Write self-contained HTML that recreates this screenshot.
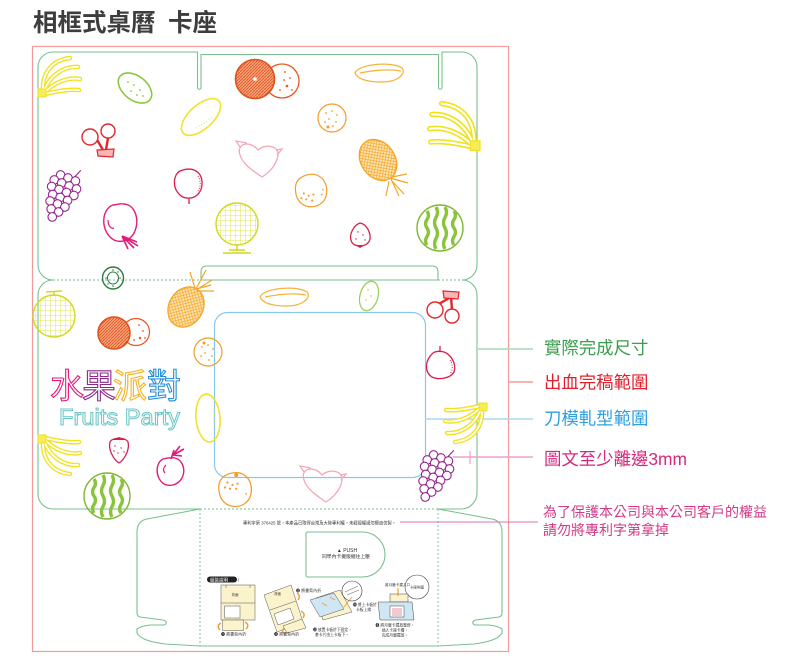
<!DOCTYPE html>
<html><head><meta charset="utf-8">
<style>
html,body{margin:0;padding:0;background:#fff;}
svg{display:block;}
text{font-family:"Liberation Sans","Noto Sans CJK TC",sans-serif;}
</style></head><body>
<svg width="800" height="660" viewBox="0 0 800 660" xmlns="http://www.w3.org/2000/svg">
<defs>
<pattern id="pO" width="4" height="4" patternUnits="userSpaceOnUse"><rect width="4" height="4" fill="#fde6bd"/><path d="M0,0 L4,4 M4,0 L0,4" stroke="#f5a623" stroke-width="0.7"/></pattern>
<pattern id="pY" width="5" height="5" patternUnits="userSpaceOnUse"><path d="M0,0 L5,0 M0,0 L0,5" stroke="#d7df23" stroke-width="0.8" fill="none"/></pattern>
<pattern id="pR" width="3" height="3" patternUnits="userSpaceOnUse"><rect width="3" height="3" fill="#f6a27a"/><path d="M0,3 L3,0" stroke="#e0501a" stroke-width="0.8"/></pattern>
</defs>

<!-- title -->
<text x="33" y="31" font-size="24.5" font-weight="bold" fill="#3d3d3d">相框式桌曆</text>
<text x="168" y="31" font-size="24.5" font-weight="bold" fill="#3d3d3d">卡座</text>

<!-- bleed -->
<rect x="32.5" y="46.5" width="476" height="605" fill="none" stroke="#f09a9a" stroke-width="1.2"/>

<!-- die-cut outline -->
<g fill="none" stroke="#79c08f" stroke-width="1.1">
<path d="M38,265 L38,67 A15,15 0 0 1 53,52 L197.5,52 L197.5,87.5 A1.75,1.75 0 0 0 201,87.5 L201,54.5 L438.5,54.5 L438.5,87.5 A1.75,1.75 0 0 0 442,87.5 L442,52 L462,52 A15,15 0 0 1 477,67 L477,265 A15,15 0 0 1 462,280"/>
<path d="M38,265 A15,15 0 0 0 53,280"/>
<path d="M462,280 A15,15 0 0 1 477,295 L477,493 A16,16 0 0 1 461,509 L438,509 M200,509 L53,509 A15,15 0 0 1 38,494 L38,295 A15,15 0 0 1 53,280"/>
<path d="M201,280 L201,272 Q201,266 207,266 L432,266 Q438,266 438,272 L438,280 M201,280 L438,280"/>
<path d="M200,509 L147,519 Q137,521 137,532 L137,613 Q137,616 140,617 L163,620 Q167,621 166,623.5 Q165,625.5 161,625 L150,625 Q141,626 137,629 L137,633 Q141,641 165,644 L200,646 L438,646 L474,644 Q498,641 502,633 L502,629 Q498,626 489,625 L478,625 Q474,625.5 473,623.5 Q472,621 476,620 L499,617 Q502,616 502,613 L502,532 Q502,521 492,519 L438,509"/>
<path d="M308,532 L362.5,532 A22.5,22.5 0 0 1 362.5,577 L308,577 Q306,577 306,575 L306,534 Q306,532 308,532 Z"/>
</g>
<g fill="none" stroke="#79c08f" stroke-width="0.9" stroke-dasharray="2,2">
<path d="M53,280 L201,280 M438,280 L462,280 M200,509 L438,509 M200,509 L200,646 M438,509 L438,646"/>
</g>

<!-- window -->
<rect x="214.5" y="312.5" width="211" height="165" rx="13" fill="none" stroke="#88c8ec" stroke-width="1.2"/>

<!-- legend lines -->
<line x1="477" y1="349" x2="533" y2="349" stroke="#a6d8b4" stroke-width="1.4"/>
<line x1="508" y1="382" x2="533" y2="382" stroke="#f29b9b" stroke-width="1.4"/>
<line x1="425" y1="419" x2="533" y2="419" stroke="#a9d7f0" stroke-width="1.4"/>
<line x1="453" y1="457" x2="533" y2="457" stroke="#eba2cb" stroke-width="1.4"/>
<line x1="470" y1="451" x2="470" y2="464" stroke="#eba2cb" stroke-width="1.2"/>
<line x1="400" y1="522" x2="538" y2="522" stroke="#e070b0" stroke-width="1"/>

<text x="544" y="353.8" font-size="17.4" fill="#3a9e4e">實際完成尺寸</text>
<text x="544" y="388.6" font-size="17.4" fill="#e11e2b">出血完稿範圍</text>
<text x="544" y="424.6" font-size="17.4" fill="#2ea0df">刀模軋型範圍</text>
<text x="544" y="465" font-size="17.4" fill="#d6287c">圖文至少離邊3mm</text>
<text x="543" y="517" font-size="14" fill="#d23a86">為了保護本公司與本公司客戶的權益</text>
<text x="543" y="535" font-size="14" fill="#d23a86">請勿將專利字第拿掉</text>

<!-- ===== FRUITS ===== -->
<!-- bananas -->
<g transform="translate(38,55)" fill="none" stroke-linecap="round">
<path d="M5,36 C4,18 14,5 32,3 M6,36 C12,20 26,11 40,12 M7,37 C17,27 30,22 42,24 M7,39 C20,36 31,34 41,35" stroke="#f2e21c" stroke-width="4.5"/>
<path d="M5,36 C4,18 14,5 32,3 M6,36 C12,20 26,11 40,12 M7,37 C17,27 30,22 42,24 M7,39 C20,36 31,34 41,35" stroke="#fff" stroke-width="1.8"/>
<rect x="0" y="34" width="8" height="8" fill="#f7ec5a" stroke="#f2e21c" stroke-width="1"/>
</g>
<g transform="translate(480,100) scale(-1.2,1.2)" fill="none" stroke-linecap="round">
<path d="M5,36 C4,18 14,5 32,3 M6,36 C12,20 26,11 40,12 M7,37 C17,27 30,22 42,24 M7,39 C20,36 31,34 41,35" stroke="#f2e21c" stroke-width="4.5"/>
<path d="M5,36 C4,18 14,5 32,3 M6,36 C12,20 26,11 40,12 M7,37 C17,27 30,22 42,24 M7,39 C20,36 31,34 41,35" stroke="#fff" stroke-width="1.8"/>
<rect x="0" y="34" width="8" height="8" fill="#f7ec5a" stroke="#f2e21c" stroke-width="1"/>
</g>
<g transform="translate(38,477) scale(1,-1)" fill="none" stroke-linecap="round">
<path d="M5,36 C4,18 14,5 32,3 M6,36 C12,20 26,11 40,12 M7,37 C17,27 30,22 42,24 M7,39 C20,36 31,34 41,35" stroke="#f2e21c" stroke-width="4.5"/>
<path d="M5,36 C4,18 14,5 32,3 M6,36 C12,20 26,11 40,12 M7,37 C17,27 30,22 42,24 M7,39 C20,36 31,34 41,35" stroke="#fff" stroke-width="1.8"/>
<rect x="0" y="34" width="8" height="8" fill="#f7ec5a" stroke="#f2e21c" stroke-width="1"/>
</g>
<g transform="translate(487,445) scale(-1,-1)" fill="none" stroke-linecap="round">
<path d="M5,36 C4,18 14,5 32,3 M6,36 C12,20 26,11 40,12 M7,37 C17,27 30,22 42,24 M7,39 C20,36 31,34 41,35" stroke="#f2e21c" stroke-width="4.5"/>
<path d="M5,36 C4,18 14,5 32,3 M6,36 C12,20 26,11 40,12 M7,37 C17,27 30,22 42,24 M7,39 C20,36 31,34 41,35" stroke="#fff" stroke-width="1.8"/>
<rect x="0" y="34" width="8" height="8" fill="#f7ec5a" stroke="#f2e21c" stroke-width="1"/>
</g>

<!-- watermelons -->
<g transform="translate(440,228)" fill="none">
<circle r="23" stroke="#7cb82f" stroke-width="1.4"/>
<path d="M-13,-17 q3,4.25 0,8.5 q-3,4.25 0,8.5 q3,4.25 0,8.5 q-3,4.25 0,8.5 M-4,-21 q3,5.25 0,10.5 q-3,5.25 0,10.5 q3,5.25 0,10.5 q-3,5.25 0,10.5 M5,-21 q3,5.25 0,10.5 q-3,5.25 0,10.5 q3,5.25 0,10.5 q-3,5.25 0,10.5 M14,-17 q3,4.25 0,8.5 q-3,4.25 0,8.5 q3,4.25 0,8.5 q-3,4.25 0,8.5" stroke="#8ac43c" stroke-width="3.4"/>
</g>
<g transform="translate(107,496)" fill="none">
<circle r="23" stroke="#7cb82f" stroke-width="1.4"/>
<path d="M-13,-17 q3,4.25 0,8.5 q-3,4.25 0,8.5 q3,4.25 0,8.5 q-3,4.25 0,8.5 M-4,-21 q3,5.25 0,10.5 q-3,5.25 0,10.5 q3,5.25 0,10.5 q-3,5.25 0,10.5 M5,-21 q3,5.25 0,10.5 q-3,5.25 0,10.5 q3,5.25 0,10.5 q-3,5.25 0,10.5 M14,-17 q3,4.25 0,8.5 q-3,4.25 0,8.5 q3,4.25 0,8.5 q-3,4.25 0,8.5" stroke="#8ac43c" stroke-width="3.4"/>
</g>

<!-- grapes -->
<g transform="translate(68,178) rotate(22)" fill="#fff" stroke="#93278f" stroke-width="1.1">
<path d="M6,-4 L9,-12" fill="none"/>
<circle cx="-8" cy="0" r="4.3"/><circle cx="0" cy="0" r="4.3"/><circle cx="8" cy="0" r="4.3"/>
<circle cx="-12" cy="7" r="4.3"/><circle cx="-4" cy="7" r="4.3"/><circle cx="4" cy="7" r="4.3"/><circle cx="12" cy="7" r="4.3"/>
<circle cx="-12" cy="14" r="4.3"/><circle cx="-4" cy="14" r="4.3"/><circle cx="4" cy="14" r="4.3"/><circle cx="12" cy="14" r="4.3"/>
<circle cx="-8" cy="21" r="4.3"/><circle cx="0" cy="21" r="4.3"/><circle cx="8" cy="21" r="4.3"/>
<circle cx="-8" cy="28" r="4.3"/><circle cx="0" cy="28" r="4.3"/><circle cx="8" cy="28" r="4.3"/>
<circle cx="-4" cy="35" r="4.3"/><circle cx="4" cy="35" r="4.3"/><circle cx="0" cy="42" r="4.3"/>
</g>
<g transform="translate(441,458) rotate(22)" fill="#fff" stroke="#93278f" stroke-width="1.1">
<path d="M6,-4 L9,-12" fill="none"/>
<circle cx="-8" cy="0" r="4.3"/><circle cx="0" cy="0" r="4.3"/><circle cx="8" cy="0" r="4.3"/>
<circle cx="-12" cy="7" r="4.3"/><circle cx="-4" cy="7" r="4.3"/><circle cx="4" cy="7" r="4.3"/><circle cx="12" cy="7" r="4.3"/>
<circle cx="-12" cy="14" r="4.3"/><circle cx="-4" cy="14" r="4.3"/><circle cx="4" cy="14" r="4.3"/><circle cx="12" cy="14" r="4.3"/>
<circle cx="-8" cy="21" r="4.3"/><circle cx="0" cy="21" r="4.3"/><circle cx="8" cy="21" r="4.3"/>
<circle cx="-8" cy="28" r="4.3"/><circle cx="0" cy="28" r="4.3"/><circle cx="8" cy="28" r="4.3"/>
<circle cx="-4" cy="35" r="4.3"/><circle cx="4" cy="35" r="4.3"/><circle cx="0" cy="42" r="4.3"/>
</g>

<!-- oranges -->
<g transform="translate(332,118)"><circle r="14" fill="none" stroke="#f39c2a" stroke-width="1.2"/>
<g fill="#f39c2a"><circle cx="-6" cy="-5" r="0.9"/><circle cx="0" cy="-7" r="0.9"/><circle cx="5" cy="-3" r="0.9"/><circle cx="-3" cy="1" r="0.9"/><circle cx="4" cy="4" r="0.9"/><circle cx="-7" cy="4" r="0.9"/><circle cx="1" cy="8" r="0.9"/><circle cx="-4" cy="9" r="1.5"/></g></g>
<g transform="translate(311,191) scale(1.2)"><path d="M-13,-2 C-13,-11 -5,-14 2,-14 C9,-13 14,-7 13,2 C12,10 5,14 -2,13 C-9,12 -13,6 -13,-2 Z" fill="none" stroke="#f39c2a" stroke-width="1"/>
<g fill="#f39c2a"><circle cx="-6" cy="2" r="0.9"/><circle cx="-2" cy="4" r="0.9"/><circle cx="2" cy="3" r="0.9"/><circle cx="-4" cy="7" r="0.9"/><circle cx="1" cy="8" r="0.9"/><circle cx="-8" cy="6" r="0.9"/><circle cx="9" cy="3" r="0.7"/><circle cx="10" cy="-1" r="0.7"/></g></g>
<g transform="translate(208,352)"><circle r="14" fill="none" stroke="#f39c2a" stroke-width="1.2"/>
<g fill="#f39c2a"><circle cx="-6" cy="-5" r="0.9"/><circle cx="0" cy="-7" r="0.9"/><circle cx="5" cy="-3" r="0.9"/><circle cx="-3" cy="1" r="0.9"/><circle cx="4" cy="4" r="0.9"/><circle cx="-7" cy="4" r="0.9"/><circle cx="1" cy="8" r="0.9"/><circle cx="-4" cy="-9" r="1.5"/></g></g>
<g transform="translate(235,490) scale(1.25)"><path d="M-13,-2 C-13,-11 -5,-14 2,-14 C9,-13 14,-7 13,2 C12,10 5,14 -2,13 C-9,12 -13,6 -13,-2 Z" fill="none" stroke="#f39c2a" stroke-width="1"/>
<g fill="#f39c2a"><circle cx="-6" cy="-6" r="0.9"/><circle cx="-2" cy="-4" r="0.9"/><circle cx="2" cy="-5" r="0.9"/><circle cx="-4" cy="-1" r="0.9"/><circle cx="1" cy="-1" r="0.9"/><circle cx="-8" cy="-2" r="0.9"/><circle cx="9" cy="3" r="0.7"/><circle cx="1" cy="-12" r="1.6"/></g></g>

<!-- grapefruit pairs -->
<circle cx="282" cy="81" r="17" fill="#fff" stroke="#e8561e" stroke-width="1.3"/>
<g fill="#e8561e"><circle cx="285" cy="72" r="0.9"/><circle cx="290" cy="78" r="0.9"/><circle cx="287" cy="86" r="1.3"/><circle cx="280" cy="90" r="0.9"/><circle cx="292" cy="90" r="0.9"/><circle cx="284" cy="80" r="0.9"/></g>
<circle cx="255" cy="79" r="19.5" fill="url(#pR)" stroke="#e0501a" stroke-width="1.6"/>
<circle cx="255" cy="79" r="1.8" fill="#fff"/>
<circle cx="136" cy="332" r="13.5" fill="#fff" stroke="#e8561e" stroke-width="1.2"/>
<g fill="#e8561e"><circle cx="139" cy="325" r="0.9"/><circle cx="143" cy="331" r="0.9"/><circle cx="140" cy="338" r="1.2"/><circle cx="134" cy="340" r="0.9"/><circle cx="145" cy="338" r="0.9"/></g>
<circle cx="114" cy="333" r="16" fill="url(#pR)" stroke="#e0501a" stroke-width="1.5"/>

<!-- pineapples -->
<ellipse cx="378" cy="160" rx="17" ry="22" transform="rotate(-35 378 160)" fill="url(#pO)" stroke="#f5a623" stroke-width="1.3"/>
<path d="M390,178 L408,183 M391,180 L404,194 M389,181 L386,196 M392,177 L407,174 M391,179 L399,196" stroke="#f5a623" stroke-width="1.2" fill="none"/>
<ellipse cx="186" cy="307" rx="17" ry="21" transform="rotate(30 186 307)" fill="url(#pO)" stroke="#f5a623" stroke-width="1.3"/>
<path d="M196,290 L212,280 M196,289 L206,270 M197,291 L214,291 M195,288 L190,272 M196,289 L211,285" stroke="#f5a623" stroke-width="1.2" fill="none"/>

<!-- cantaloupes -->
<circle cx="237" cy="224" r="21" fill="url(#pY)" stroke="#d0d820" stroke-width="1.4"/>
<path d="M237,245 L237,251 M223,253 L251,253 M229,250 L245,250" stroke="#d0d820" stroke-width="1.5" fill="none"/>
<circle cx="54" cy="316" r="21" fill="url(#pY)" stroke="#d0d820" stroke-width="1.4"/>
<path d="M46,292 L62,291 M54,291 L54,296" stroke="#d0d820" stroke-width="1.5" fill="none"/>

<!-- apples -->
<path d="M113,205 C101,209 100,232 114,240 C120,243 130,241 134,233 C140,221 136,205 124,204 C120,203 117,205 113,205 Z" fill="none" stroke="#e4197a" stroke-width="1.4"/>
<path d="M108,220 C108,226 111,229 114,228" fill="none" stroke="#e4197a" stroke-width="1.2"/>
<path d="M122,236 L137,242 M122,236 L134,248 M122,236 L128,249 M122,236 L138,246" stroke="#e4197a" stroke-width="1.6" fill="none"/>
<path d="M163,459 C155,463 155,478 164,484 C170,487 178,485 182,478 C186,470 183,460 175,458 C171,457 167,458 163,459 Z" fill="none" stroke="#e4197a" stroke-width="1.4"/>
<path d="M166,465 C163,468 163,471 165,473" fill="none" stroke="#e4197a" stroke-width="1.2"/>
<path d="M171,459 L174,450 M173,455 L184,449 M173,455 L182,456 M173,455 L180,446" stroke="#e4197a" stroke-width="1.6" fill="none"/>

<!-- cherries -->
<path d="M92,131 L103,150 M108,138 L106,150" stroke="#e3262a" stroke-width="2.4" fill="none"/>
<circle cx="90" cy="137" r="8" fill="#fff" stroke="#e3262a" stroke-width="1.4"/>
<circle cx="108" cy="131" r="7" fill="#fff" stroke="#e3262a" stroke-width="1.4"/>
<path d="M97,150 L114,149 L113,157 L98,156 Z" fill="#f7b5b5" stroke="#e3262a" stroke-width="1.2"/>
<path d="M451,297 L437,305 M451,297 L452,310" stroke="#e3262a" stroke-width="2.4" fill="none"/>
<path d="M443,291 L459,292 L458,299 L444,298 Z" fill="#f7b5b5" stroke="#e3262a" stroke-width="1.2"/>
<circle cx="435" cy="310" r="8" fill="#fff" stroke="#e3262a" stroke-width="1.4"/>
<circle cx="452" cy="316" r="7" fill="#fff" stroke="#e3262a" stroke-width="1.4"/>

<!-- strawberries -->
<path d="M360,223 C354,225 349,234 351,240 C352,245 357,246 360,246 C364,246 369,244 370,239 C371,232 366,224 360,223 Z" fill="none" stroke="#d6204b" stroke-width="1.3"/>
<path d="M355,245 L365,245 L360,248 Z" fill="#d6204b"/>
<g fill="#d6204b"><circle cx="358" cy="232" r="0.7"/><circle cx="363" cy="235" r="0.7"/><circle cx="356" cy="239" r="0.7"/><circle cx="365" cy="240" r="0.7"/></g>
<path d="M110,442 C108,450 114,460 119,463 C124,460 130,450 128,442 C126,437 112,437 110,442 Z" fill="none" stroke="#d6204b" stroke-width="1.3"/>
<path d="M112,440 L126,440 L119,437 Z" fill="#d6204b"/>
<g fill="#d6204b"><circle cx="115" cy="446" r="0.7"/><circle cx="121" cy="448" r="0.7"/><circle cx="118" cy="453" r="0.7"/><circle cx="124" cy="452" r="0.7"/><circle cx="114" cy="451" r="0.7"/></g>

<!-- limes -->
<ellipse cx="135" cy="88" rx="19" ry="12" transform="rotate(38 135 88)" fill="none" stroke="#8dc63f" stroke-width="1.6"/>
<g fill="#8dc63f"><circle cx="128" cy="82" r="0.9"/><circle cx="134" cy="85" r="0.9"/><circle cx="140" cy="90" r="0.9"/><circle cx="131" cy="91" r="0.9"/><circle cx="143" cy="96" r="0.9"/><circle cx="137" cy="95" r="0.9"/></g>
<ellipse cx="369" cy="296" rx="9" ry="15" transform="rotate(15 369 296)" fill="none" stroke="#9fcf5a" stroke-width="1.3"/>
<g fill="#9fcf5a"><circle cx="368" cy="290" r="0.7"/><circle cx="371" cy="296" r="0.7"/><circle cx="366" cy="300" r="0.7"/></g>

<!-- yellow melons -->
<ellipse cx="201" cy="117" rx="24" ry="12" transform="rotate(-42 201 117)" fill="none" stroke="#f2e229" stroke-width="1.6"/>
<path d="M196,128 L212,118" stroke="#f2e229" stroke-width="1.2" stroke-dasharray="1,2" fill="none"/>
<ellipse cx="208" cy="418" rx="12" ry="24" transform="rotate(-5 208 418)" fill="none" stroke="#f2e229" stroke-width="1.6"/>
<path d="M214,408 L214,428" stroke="#f2e229" stroke-width="1.2" stroke-dasharray="1,2" fill="none"/>

<!-- papayas -->
<path d="M355,73 C358,64 392,61 402,68 C407,74 397,82 382,82 C370,82 358,80 355,73 Z M360,73 C375,70 390,69 401,71" fill="none" stroke="#f6b43c" stroke-width="1.3"/>
<path d="M260,297 C263,288 297,285 307,292 C312,298 302,306 287,306 C275,306 263,304 260,297 Z M265,297 C280,294 295,293 306,295" fill="none" stroke="#f6b43c" stroke-width="1.3"/>

<!-- peaches -->
<path d="M258,150 C250,140 236,143 240,155 C243,165 255,172 262,177 C270,172 277,164 278,155 C279,146 266,143 258,150 Z M240,147 L236,141 L247,143 M276,150 L282,149 L277,155" fill="none" stroke="#f4a7b5" stroke-width="1.3"/>
<path d="M322,475 C314,465 300,468 304,480 C307,490 319,497 326,502 C334,497 341,489 342,480 C343,471 330,468 322,475 Z M304,472 L300,466 L311,468 M340,475 L346,474 L341,480" fill="none" stroke="#f4a7b5" stroke-width="1.3"/>

<!-- pears -->
<path d="M180,171 C173,175 172,188 180,195 C184,199 194,200 199,193 C204,186 203,175 196,171 C191,168 185,169 180,171 Z M189,198 L189,204" fill="none" stroke="#d6204b" stroke-width="1.3"/>
<path d="M198,176 C201,181 201,187 198,191" fill="none" stroke="#d6204b" stroke-width="1" stroke-dasharray="1,1.5"/>
<path d="M433,353 C425,360 424,372 432,377 C438,380 450,379 454,372 C457,363 450,354 444,352 C440,351 436,351 433,353 Z M440,346 L440,352" fill="none" stroke="#d6204b" stroke-width="1.3"/>
<path d="M450,360 C453,364 453,370 450,374" fill="none" stroke="#d6204b" stroke-width="1" stroke-dasharray="1,1.5"/>

<!-- kiwi -->
<ellipse cx="113" cy="278" rx="10.5" ry="11" fill="none" stroke="#2b7a3e" stroke-width="1.4"/>
<ellipse cx="113" cy="278" rx="5.5" ry="6" fill="none" stroke="#2b7a3e" stroke-width="1"/>
<g fill="#2b7a3e"><circle cx="113" cy="270" r="0.8"/><circle cx="120" cy="278" r="0.8"/><circle cx="113" cy="286" r="0.8"/><circle cx="106" cy="278" r="0.8"/><circle cx="118" cy="272" r="0.7"/><circle cx="108" cy="284" r="0.7"/></g>

<!-- logo text -->
<g font-size="34" font-weight="normal" fill="#fff" stroke-width="1.1">
<text x="50" y="398" stroke="#e4197a">水</text>
<text x="82" y="398" stroke="#8b2a8b">果</text>
<text x="113" y="398" stroke="#f5b323">派</text>
<text x="147" y="398" stroke="#2b8fd6">對</text>
</g>
<text x="59" y="425" font-size="23" font-weight="normal" textLength="121" lengthAdjust="spacingAndGlyphs" fill="#fff" stroke="#6cc6c6" stroke-width="1" font-family="Liberation Sans, sans-serif">Fruits Party</text>

<!-- ===== bottom instruction area ===== -->
<text x="243" y="524.5" font-size="4.6" fill="#333" textLength="153" lengthAdjust="spacingAndGlyphs">專利字第 376425 號，本產品已取得台灣及大陸專利權，未經授權請勿擅自仿製。</text>
<text x="347" y="552" font-size="5" text-anchor="middle" fill="#333">▲ PUSH</text>
<text x="346" y="558" font-size="4.8" text-anchor="middle" fill="#333">同學內卡擺版擺往上壓</text>

<rect x="207" y="576.5" width="30" height="6" rx="3" fill="#222"/>
<text x="210" y="581.3" font-size="4.5" fill="#fff">組裝說明</text>
<text x="238" y="581.3" font-size="4.5" fill="#222">!</text>

<!-- diagram 1 -->
<g stroke="#555" stroke-width="0.5">
<rect x="221" y="585" width="34" height="35" fill="#fbf3cc"/>
<path d="M221,603 L255,603 M226,585 L226,588 M250,585 L250,588" fill="none"/>
<rect x="224.5" y="606" width="15.5" height="12" fill="#fff"/>
<rect x="222.7" y="620" width="20.6" height="10.7" fill="#fbf3cc"/>
</g>
<path d="M221,623 Q216,626 220,630 M245,622 Q250,625 246,629" fill="none" stroke="#f39c2a" stroke-width="1.5"/>
<text x="235" y="596" font-size="3.5" fill="#333" text-anchor="middle">背面</text>
<text x="221" y="635.5" font-size="4" fill="#333">❶ 將書背內折</text>

<!-- diagram 2 -->
<g stroke="#555" stroke-width="0.5">
<path d="M264,595 L291,585 L303,622 L277,632 Z" fill="#fbf3cc"/>
<path d="M270,610 L296,601" fill="none"/>
<path d="M274,614 L290,608 L294,619 L278,625 Z" fill="#fff"/>
<path d="M283,626 L302,619 L306,628 L287,633 Z" fill="#fbf3cc"/>
</g>
<path d="M297,593 Q301,596 298,600 M301,611 Q306,614 303,618 M284,628 Q281,632 285,634" fill="none" stroke="#f39c2a" stroke-width="1.4"/>
<text x="274" y="595" font-size="3.5" fill="#333">背面</text>
<text x="296" y="592" font-size="4" fill="#333">❸ 將書背內折</text>
<text x="274" y="635.5" font-size="4" fill="#333">❷ 將書背內折</text>

<!-- diagram 3 -->
<g stroke="#555" stroke-width="0.5">
<path d="M316,598 L340,590 L352,612 L323,620 Z" fill="#fbf3cc"/>
<path d="M310,600 L334,593 L344,609 L320,617 Z" fill="#cfe6f5"/>
<circle cx="352" cy="591" r="10" fill="#fff" stroke="#333" stroke-width="0.6"/>
<path d="M345,592 L358,586 M347,595 L359,590" fill="none"/>
</g>
<path d="M322,603 L327,606 M330,597 L335,600 M344,607 L352,597" fill="none" stroke="#f39c2a" stroke-width="0.9"/>
<text x="353" y="606" font-size="3.8" fill="#333">❹ 將上卡板於</text>
<text x="356" y="611" font-size="3.8" fill="#333">卡板上緣</text>
<text x="313" y="631" font-size="3.8" fill="#333">❸ 放置卡板於下固定，</text>
<text x="315" y="636" font-size="3.8" fill="#333">套卡片由上卡板下。</text>

<!-- diagram 4 -->
<g stroke="#444" stroke-width="0.5">
<circle cx="417" cy="587" r="12" fill="#fff" stroke-width="0.6"/>
<rect x="390" y="594" width="18" height="8" fill="#fbf3cc"/>
<path d="M378,602 L412,602 L414,620 L380,620 Z" fill="#cfe6f5"/>
<rect x="390" y="606" width="14" height="11" fill="#fff"/>
<path d="M392,609 L402,609 M392,611 L402,611 M392,613 L402,613 M392,615 L402,615" fill="none" stroke="#d6204b" stroke-width="0.6"/>
</g>
<path d="M398,588 L398,596" stroke="#f39c2a" stroke-width="1.2"/>
<text x="385" y="586" font-size="3.6" fill="#333">將月曆卡擺入口</text>
<text x="417" y="588.5" font-size="3.6" fill="#333" text-anchor="middle">卡座側面</text>
<text x="395" y="626.5" font-size="3.8" fill="#333" text-anchor="middle">❺ 將月曆卡擺放整齊，</text>
<text x="395" y="631.5" font-size="3.8" fill="#333" text-anchor="middle">插入卡座卡槽，</text>
<text x="395" y="636.5" font-size="3.8" fill="#333" text-anchor="middle">完成月曆擺放。</text>
</svg>
</body></html>
